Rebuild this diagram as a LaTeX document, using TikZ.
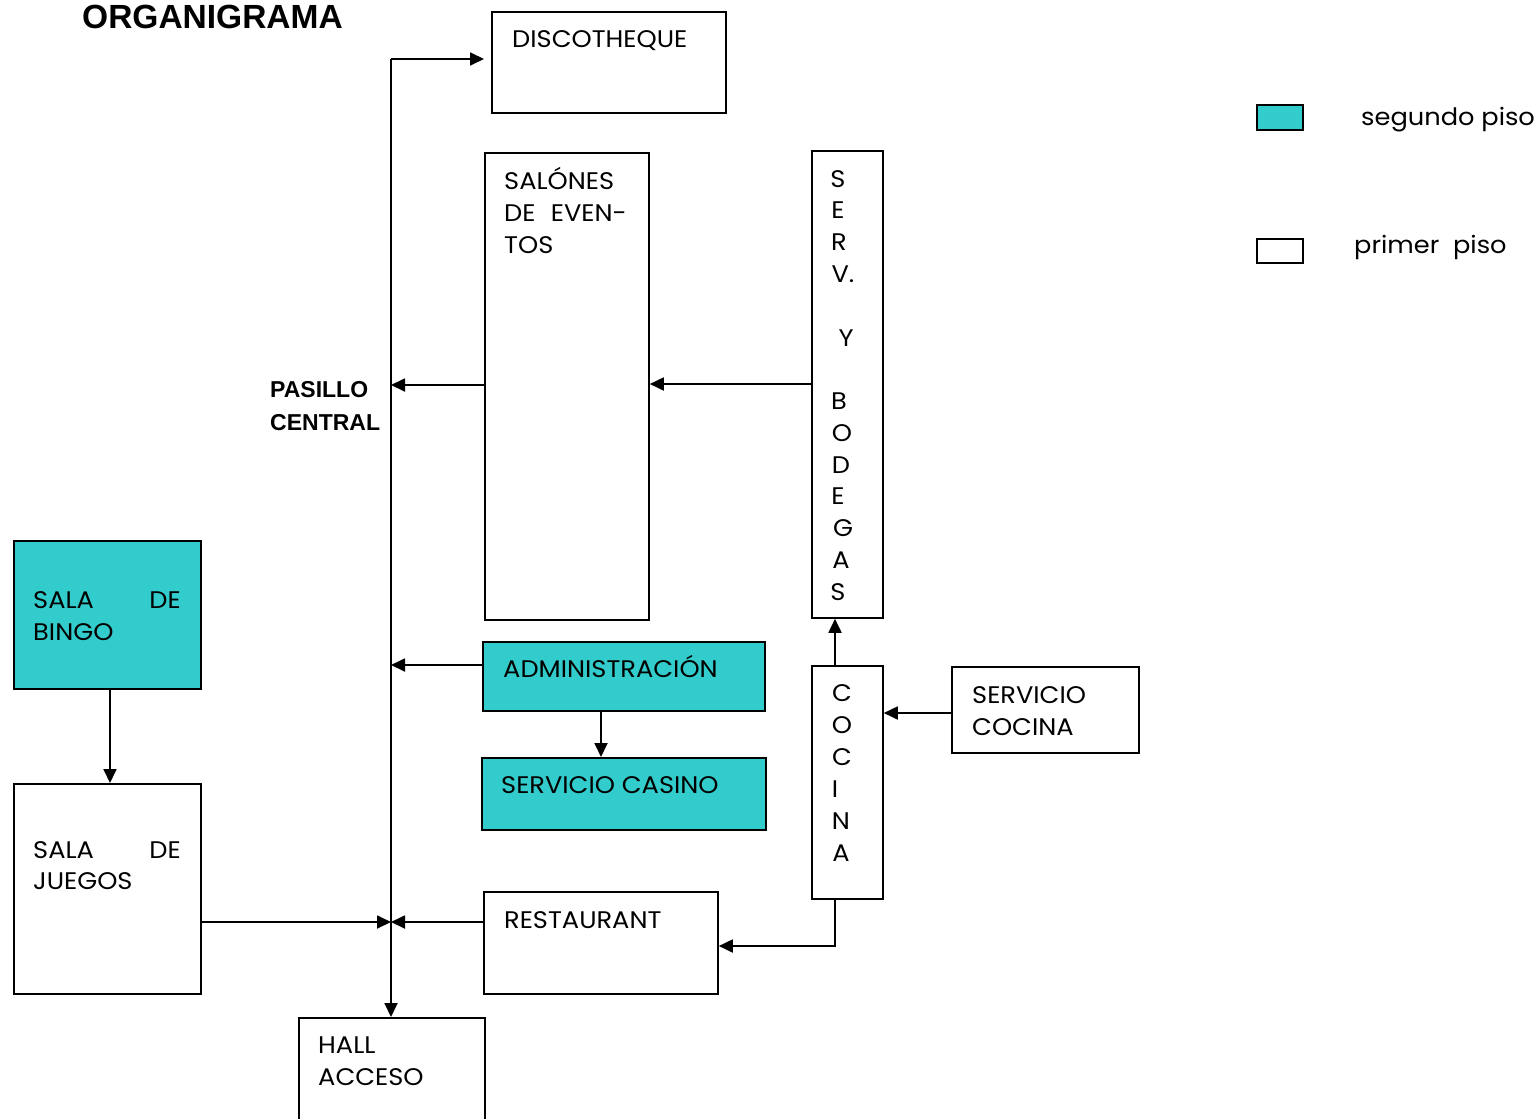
\documentclass[tikz,border=0pt]{standalone}
\usepackage{fontspec}
\setmainfont{Poppins}[FakeStretch=1.07]
\newfontfamily\titlefont{Liberation Sans}
\usetikzlibrary{arrows.meta}
\definecolor{teal2}{HTML}{33CCCC}
\tikzset{
  box/.style={draw=black,line width=1.8pt,rectangle,inner sep=0pt,anchor=north west},
  tealbox/.style={box,fill=teal2},
  txt/.style={anchor=base west,inner sep=0pt,font=\fontsize{24}{24}\selectfont},
  txtr/.style={anchor=base east,inner sep=0pt,font=\fontsize{24}{24}\selectfont},
  ltr/.style={anchor=base,inner sep=0pt,font=\fontsize{24}{24}\selectfont},
  bold/.style={anchor=base west,inner sep=0pt,font=\titlefont\bfseries\fontsize{23}{23}\selectfont},
  conn/.style={line width=1.8pt},
  arr/.style={conn,-{Triangle[length=14pt,width=13pt]}},
}
\begin{document}
\begin{tikzpicture}[x=1pt,y=-1pt]
\useasboundingbox (0,0) rectangle (1537,1119);
% title
\node[anchor=base west,inner sep=0pt,font=\titlefont\bfseries\fontsize{33.5}{33.5}\selectfont] (title) at (82,28) {ORGANIGRAMA};
% boxes
\node[box,minimum width=234pt,minimum height=101pt] (disco) at (491,11) {};
\node[txt] (discot) at (512,47) {DISCOTHEQUE};
\node[box,minimum width=164pt,minimum height=467pt] (salones) at (484,152) {};
\node[txt] (sal1) at (504,189) {SALÓNES};
\node[txt] (sal2) at (504,221) {DE};
\node[txtr] (sal2b) at (627,221) {EVEN-};
\node[txt] (sal3) at (504,253) {TOS};
\node[box,minimum width=71pt,minimum height=467pt] (serv) at (811,150) {};
\foreach \l/\y/\x [count=\i] in {S/187/838,E/218/838,R/250/839,V./282/843,Y/346/846,B/409/839,O/441/842,D/473/841,E/504/838,G/536/843,A/568/841,S/600/838}
  \node[ltr] (sv\i) at (\x,\y) {\l};
\node[tealbox,minimum width=187pt,minimum height=148pt] (bingo) at (13,540) {};
\node[txt] (bin1) at (33,608) {SALA};
\node[txtr] (bin1b) at (181,608) {DE};
\node[txt] (bin2) at (33,640) {BINGO};
\node[box,minimum width=187pt,minimum height=210pt] (juegos) at (13,783) {};
\node[txt] (jue1) at (33,858) {SALA};
\node[txtr] (jue1b) at (181,858) {DE};
\node[txt] (jue2) at (33,889) {JUEGOS};
\node[tealbox,minimum width=282pt,minimum height=69pt] (admin) at (482,641) {};
\node[txt] (admint) at (503,677) {ADMINISTRACIÓN};
\node[tealbox,minimum width=284pt,minimum height=72pt] (casino) at (481,757) {};
\node[txt] (casinot) at (501,793) {SERVICIO CASINO};
\node[box,minimum width=234pt,minimum height=102pt] (rest) at (483,891) {};
\node[txt] (restt) at (504,928) {RESTAURANT};
\node[box,minimum width=71pt,minimum height=233pt] (cocina) at (811,665) {};
\foreach \l/\y/\x [count=\i] in {C/701/842,O/733/842,C/765/842,I/797/835,N/829/841,A/861/841}
  \node[ltr] (co\i) at (\x,\y) {\l};
\node[box,minimum width=187pt,minimum height=86pt] (scocina) at (951,666) {};
\node[txt] (sc1) at (972,703) {SERVICIO};
\node[txt] (sc2) at (972,735) {COCINA};
\node[box,minimum width=186pt,minimum height=104pt] (hall) at (298,1017) {};
\node[txt] (hall1) at (318,1053) {HALL};
\node[txt] (hall2) at (318,1085) {ACCESO};
% pasillo
\node[bold] (pas1) at (270,397) {PASILLO};
\node[bold] (pas2) at (270,430) {CENTRAL};
% legend
\node[tealbox,minimum width=46pt,minimum height=25pt] (leg1) at (1256,104) {};
\node[txt] (leg1t) at (1361,125) {segundo piso};
\node[box,minimum width=46pt,minimum height=24pt] (leg2) at (1256,238) {};
\node[txt] (leg2t) at (1354,253) {primer\ \ piso};
% connectors
\coordinate (corner) at (391,59);
\draw[arr] (corner) -- (484,59);
\draw[arr] (corner) -- (corner |- hall.north);
\draw[arr] (serv.west |- 0,384) -- (salones.east |- 0,384);
\draw[arr] (salones.west |- 0,385) -- (corner |- 0,385);
\draw[arr] (admin.west |- 0,665) -- (corner |- 0,665);
\draw[arr] (bingo.south -| 110,0) -- (juegos.north -| 110,0);
\draw[arr] (202,922) -- (corner |- 0,922);
\draw[arr] (rest.west |- 0,922) -- (corner |- 0,922);
\draw[arr] (admin.south -| 601,0) -- (casino.north -| 601,0);
\draw[arr] (cocina.north -| 835,0) -- (serv.south -| 835,0);
\draw[arr] (scocina.west |- 0,713) -- (cocina.east |- 0,713);
\draw[arr] (cocina.south -| 835,0) |- (rest.east |- 0,946);
\end{tikzpicture}
\end{document}
